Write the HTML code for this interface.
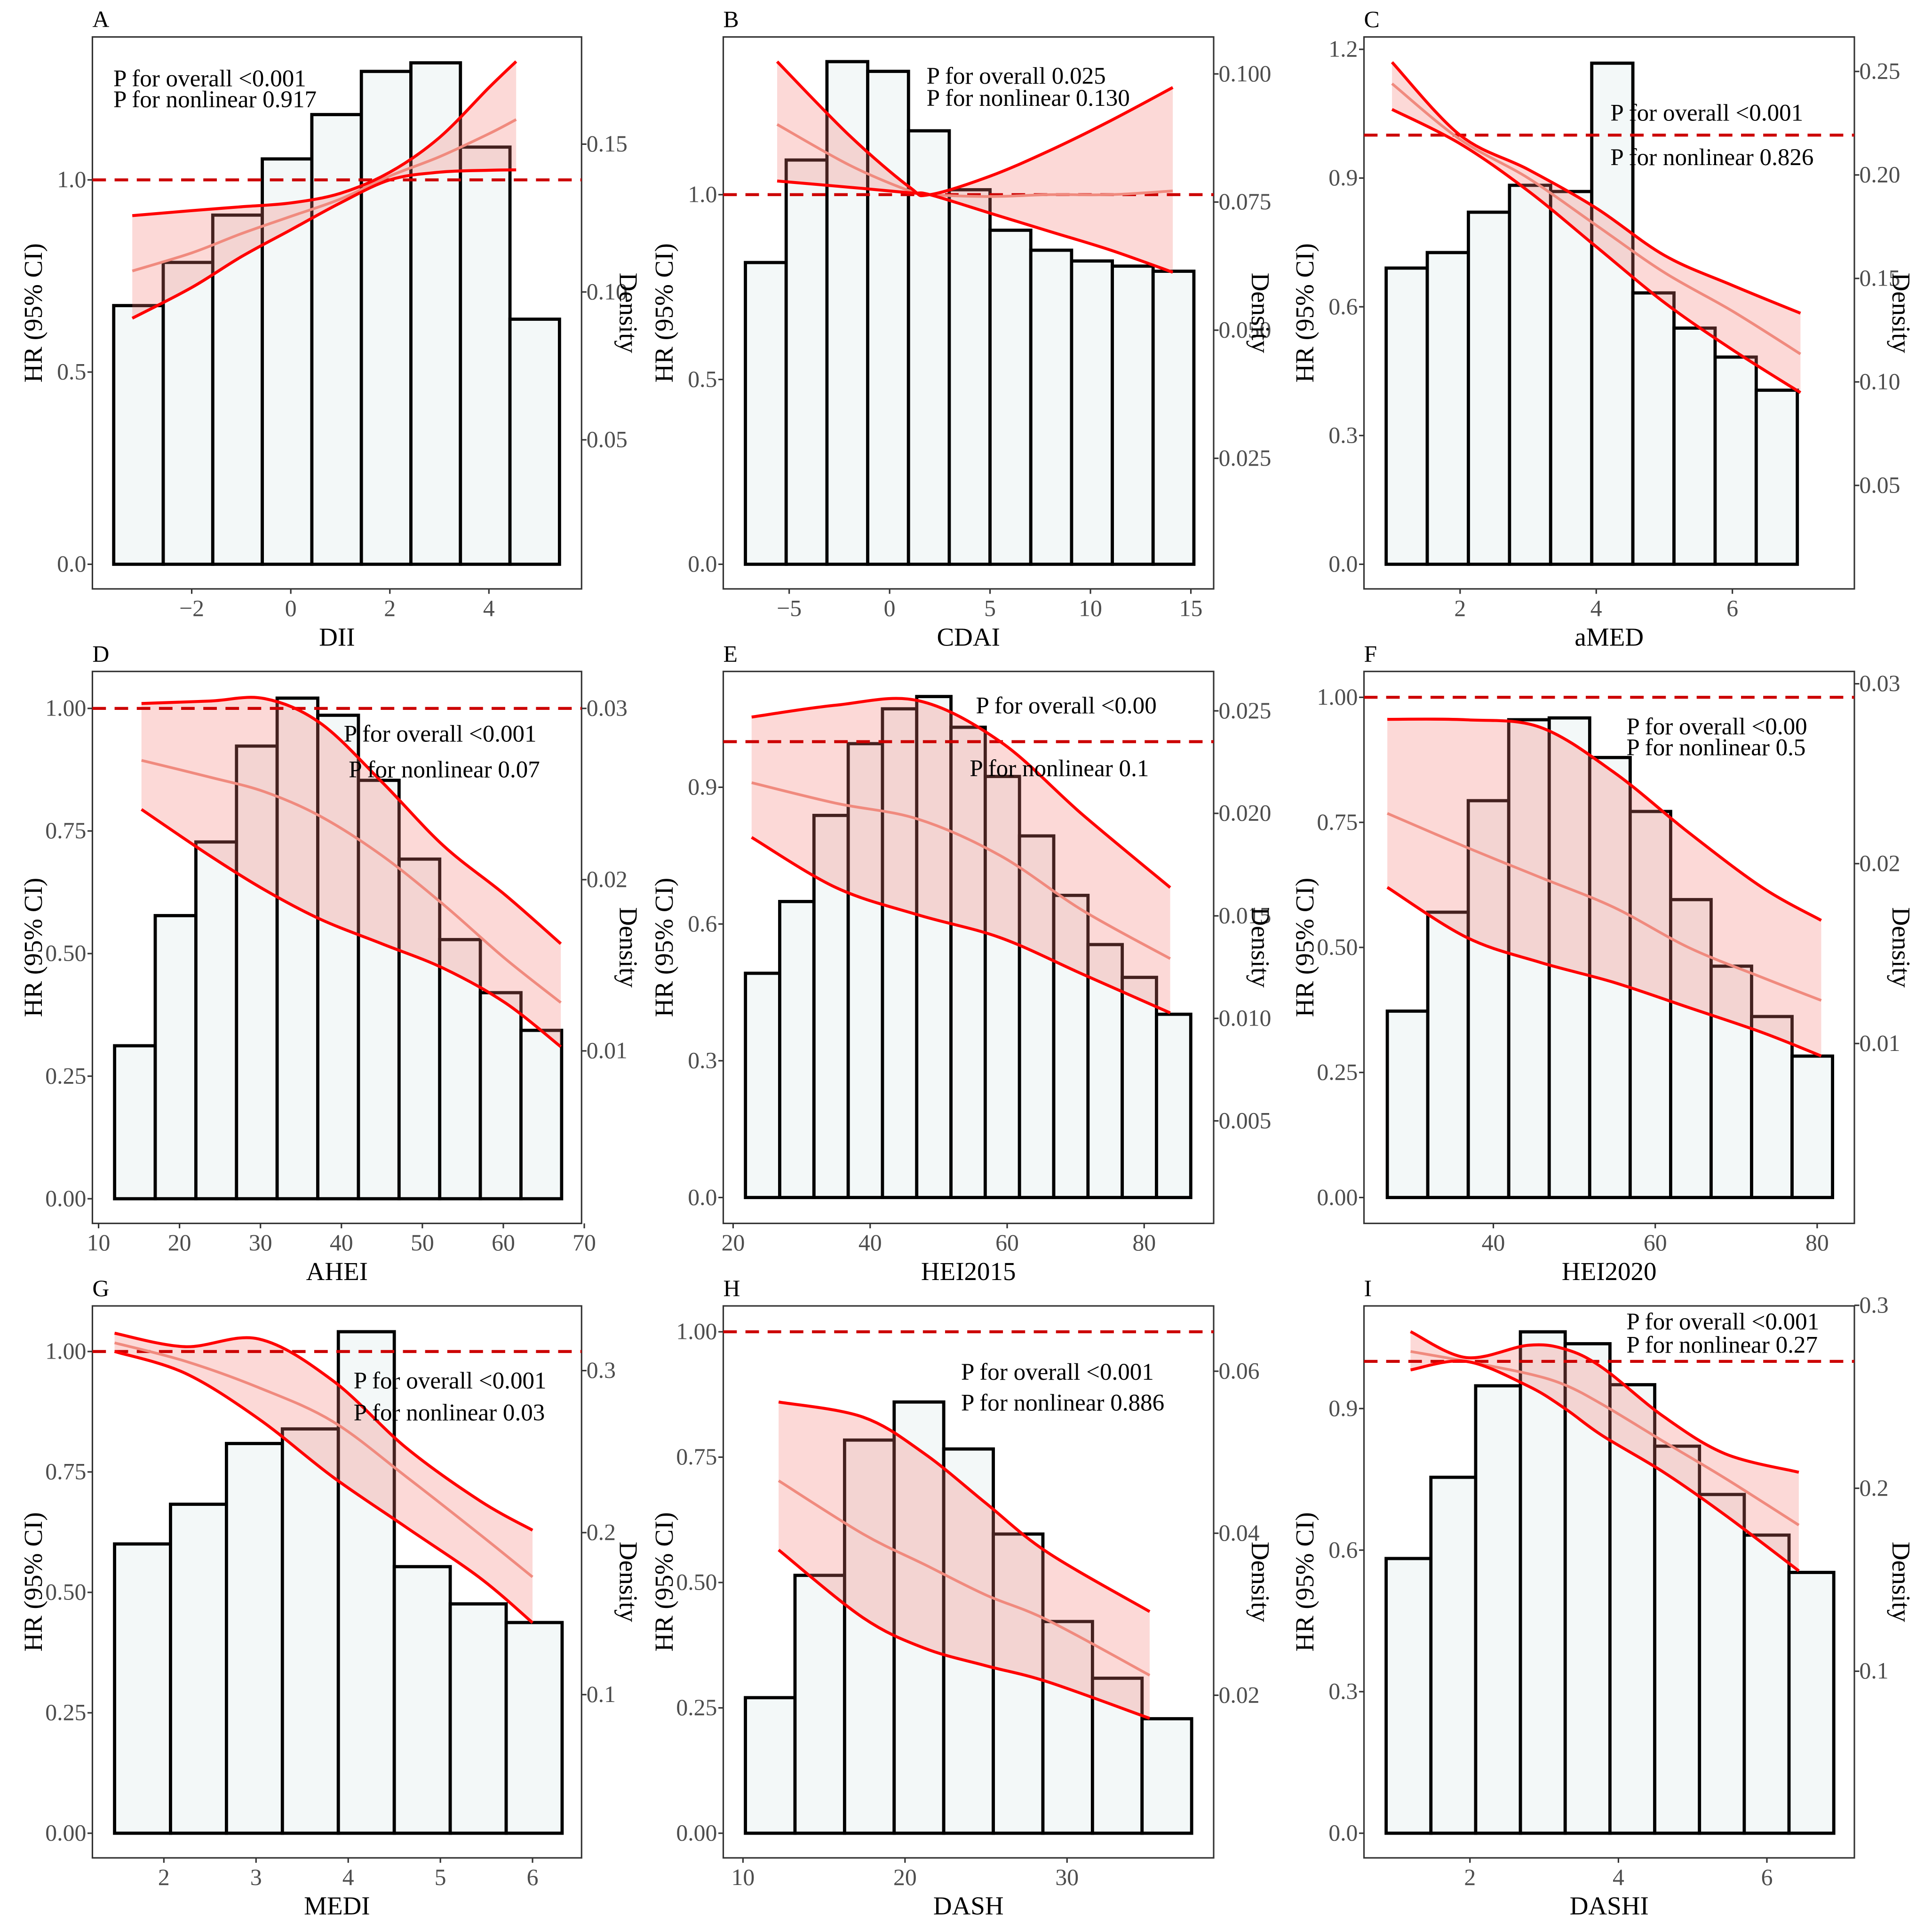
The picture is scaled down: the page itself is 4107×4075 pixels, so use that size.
<!DOCTYPE html>
<html><head><meta charset="utf-8"><style>
html,body{margin:0;padding:0;background:#fff;}
svg{display:block;}
text{font-family:"Liberation Serif",serif;}
</style></head><body>
<svg id="fig" width="4107" height="4075" viewBox="0 0 1568 1556" preserveAspectRatio="none" xmlns="http://www.w3.org/2000/svg"></svg>
<script>
// ---- data arrays per panel ----
const aBins=[0.0954,0.110,0.126,0.145,0.160,0.1746,0.1775,0.149,0.0908];
const aCx=[-3.2,-2,-1,0,1,2,3,4,4.55];
const aFit=[0.763,0.81,0.86,0.905,0.95,1.01,1.06,1.12,1.157];
const aUp=[0.907,0.92,0.93,0.94,0.965,1.02,1.11,1.24,1.308];
const aLo=[0.64,0.72,0.80,0.87,0.94,1.00,1.02,1.025,1.026];

const bBins=[0.0632,0.0832,0.1024,0.1005,0.0889,0.0774,0.0695,0.0656,0.0635,0.0625,0.0615];
const bCx=[-5.6,-2,1,2,5,8,11,14.1];
const bFit=[1.19,1.08,1.01,1.0,0.995,1.0,1.0,1.01];
const bUp=[1.36,1.16,1.02,1.0,1.05,1.12,1.2,1.29];
const bLo=[1.037,1.02,1.005,1.0,0.95,0.9,0.85,0.79];

const cBins=[0.155,0.1625,0.182,0.195,0.192,0.254,0.143,0.126,0.112,0.096];
const cCx=[1.0,2.0,3.0,4.0,5.0,6.0,7.0];
const cFit=[1.12,0.99,0.9,0.79,0.68,0.59,0.49];
const cUp=[1.17,1.0,0.92,0.83,0.72,0.65,0.585];
const cLo=[1.06,0.98,0.87,0.74,0.61,0.50,0.40];

const dBins=[0.0103,0.0179,0.0222,0.0278,0.0306,0.0296,0.0258,0.0212,0.0165,0.0134,0.0112];
const dCx=[15.3,23.7,30.5,37.4,45,52.6,60.2,67.1];
const dFit=[0.894,0.86,0.83,0.78,0.70,0.60,0.49,0.40];
const dUp=[1.01,1.015,1.02,0.97,0.85,0.72,0.62,0.52];
const dLo=[0.794,0.70,0.63,0.57,0.52,0.47,0.40,0.31];

const eBins=[0.0122,0.0157,0.0199,0.0234,0.0251,0.0257,0.0242,0.0218,0.0189,0.016,0.0136,0.012,0.0102];
const eCx=[22.7,35,47,59,71,83.8];
const eFit=[0.91,0.865,0.83,0.75,0.63,0.524];
const eUp=[1.054,1.08,1.09,1.0,0.84,0.68];
const eLo=[0.79,0.68,0.62,0.57,0.49,0.405];

const fBins=[0.0118,0.0173,0.0235,0.028,0.0281,0.0259,0.0229,0.018,0.0143,0.0115,0.0093];
const fCx=[26.9,36.7,45.8,54.9,64.1,73.2,80.5];
const fFit=[0.768,0.70,0.64,0.58,0.50,0.44,0.394];
const fUp=[0.956,0.955,0.94,0.85,0.73,0.62,0.554];
const fLo=[0.62,0.52,0.47,0.43,0.38,0.33,0.283];

const gBins=[0.193,0.2175,0.255,0.264,0.324,0.179,0.156,0.1445];
const gCx=[1.465,2.23,3.03,3.83,4.63,5.43,6.0];
const gFit=[1.018,0.98,0.925,0.855,0.74,0.62,0.532];
const gUp=[1.038,1.01,1.026,0.94,0.80,0.69,0.629];
const gLo=[1.0,0.955,0.86,0.74,0.635,0.53,0.437];

const hBins=[0.0197,0.0348,0.0515,0.0562,0.0504,0.0399,0.0291,0.0221,0.0171];
const hCx=[12.2,17.4,21.2,25,28.8,35.1];
const hFit=[0.703,0.597,0.536,0.475,0.425,0.315];
const hUp=[0.86,0.83,0.757,0.658,0.56,0.442];
const hLo=[0.565,0.43,0.369,0.334,0.302,0.229];

const iBins=[0.1616,0.206,0.256,0.2855,0.279,0.2566,0.223,0.1966,0.1744,0.154];
const iCx=[1.2,1.95,2.78,3.28,3.78,4.61,5.44,6.43];
const iFit=[1.021,1.0,0.974,0.95,0.909,0.83,0.752,0.653];
const iUp=[1.063,1.008,1.034,1.026,0.987,0.883,0.804,0.765];
const iLo=[0.982,1.0,0.948,0.90,0.843,0.765,0.674,0.556];

// ---- panel layout (scales) ----
const panels=[
 {id:'A',L:75,R:472,T:30,B:478,hr0:458,hrK:312,d0:477,dK:2400,xv:0,xp:236,xK:40.2,b0:-3.575,bw:1.0,bins:aBins,cx:aCx,fit:aFit,up:aUp,lo:aLo,
  hT:[0,0.5,1.0],hF:1,dT:[0.05,0.10,0.15],dF:2,xT:[-2,0,2,4],xl:'DII',p:[[92,70,'P for overall <0.001'],[92,87,'P for nonlinear 0.917']]},
 {id:'B',L:587,R:985,T:30,B:478,hr0:458,hrK:300,d0:476,dK:4160,xv:0,xp:722,xK:16.3,b0:-7.18,bw:2.03,bins:bBins,cx:bCx,fit:bFit,up:bUp,lo:bLo,
  hT:[0,0.5,1.0],hF:1,dT:[0.025,0.05,0.075,0.1],dF:3,xT:[-5,0,5,10,15],xl:'CDAI',p:[[752,68,'P for overall 0.025'],[752,86,'P for nonlinear 0.130']]},
 {id:'C',L:1107,R:1505,T:30,B:478,hr0:458,hrK:348.3,d0:478,dK:1680,xv:2,xp:1185,xK:55.25,b0:0.914,bw:0.604,bins:cBins,cx:cCx,fit:cFit,up:cUp,lo:cLo,
  hT:[0,0.3,0.6,0.9,1.2],hF:1,dT:[0.05,0.1,0.15,0.2,0.25],dF:2,xT:[2,4,6],xl:'aMED',p:[[1307,98,'P for overall <0.001'],[1307,134,'P for nonlinear 0.826']]},
 {id:'D',L:75,R:472,T:545,B:993,hr0:973,hrK:398,d0:992,dK:13900,xv:10,xp:80,xK:6.57,b0:11.98,bw:5.02,bins:dBins,cx:dCx,fit:dFit,up:dUp,lo:dLo,
  hT:[0,0.25,0.5,0.75,1.0],hF:2,dT:[0.01,0.02,0.03],dF:2,xT:[10,20,30,40,50,60,70],xl:'AHEI',p:[[279,602,'P for overall <0.001'],[283,631,'P for nonlinear 0.07']]},
 {id:'E',L:587,R:985,T:545,B:993,hr0:972,hrK:370,d0:993,dK:16640,xv:20,xp:595,xK:5.56,b0:21.8,bw:5.0,bins:eBins,cx:eCx,fit:eFit,up:eUp,lo:eLo,
  hT:[0,0.3,0.6,0.9],hF:1,dT:[0.005,0.01,0.015,0.02,0.025],dF:3,xT:[20,40,60,80],xl:'HEI2015',p:[[792,579,'P for overall <0.00'],[787,630,'P for nonlinear 0.1']]},
 {id:'F',L:1107,R:1505,T:545,B:993,hr0:972,hrK:406,d0:993,dK:14600,xv:40,xp:1212,xK:6.57,b0:26.9,bw:5.0,bins:fBins,cx:fCx,fit:fFit,up:fUp,lo:fLo,
  hT:[0,0.25,0.5,0.75,1.0],hF:2,dT:[0.01,0.02,0.03],dF:2,xT:[40,60,80],xl:'HEI2020',p:[[1320,596,'P for overall <0.00'],[1320,613,'P for nonlinear 0.5']]},
 {id:'G',L:75,R:472,T:1060,B:1508,hr0:1488,hrK:391,d0:1507,dK:1315,xv:2,xp:133,xK:74.8,b0:1.465,bw:0.607,bins:gBins,cx:gCx,fit:gFit,up:gUp,lo:gLo,
  hT:[0,0.25,0.5,0.75,1.0],hF:2,dT:[0.1,0.2,0.3],dF:1,xT:[2,3,4,5,6],xl:'MEDI',p:[[287,1127,'P for overall <0.001'],[287,1153,'P for nonlinear 0.03']]},
 {id:'H',L:587,R:985,T:1060,B:1508,hr0:1488,hrK:407,d0:1507.5,dK:6575,xv:10,xp:603,xK:13.15,b0:10.15,bw:3.06,bins:hBins,cx:hCx,fit:hFit,up:hUp,lo:hLo,
  hT:[0,0.25,0.5,0.75,1.0],hF:2,dT:[0.02,0.04,0.06],dF:2,xT:[10,20,30],xl:'DASH',p:[[780,1120,'P for overall <0.001'],[780,1145,'P for nonlinear 0.886']]},
 {id:'I',L:1107,R:1505,T:1060,B:1508,hr0:1488,hrK:383,d0:1505,dK:1485,xv:2,xp:1193,xK:60.25,b0:0.871,bw:0.603,bins:iBins,cx:iCx,fit:iFit,up:iUp,lo:iLo,
  hT:[0,0.3,0.6,0.9],hF:1,dT:[0.1,0.2,0.3],dF:1,xT:[2,4,6],xl:'DASHI',p:[[1320,1079,'P for overall <0.001'],[1320,1098,'P for nonlinear 0.27']]}
];

const NS='http://www.w3.org/2000/svg';
const svg=document.getElementById('fig');
function mk(tag,attrs,parent){const e=document.createElementNS(NS,tag);for(const k in attrs)e.setAttribute(k,attrs[k]);(parent||svg).appendChild(e);return e;}
function smooth(pts){
  let d='M'+pts[0][0]+','+pts[0][1];
  for(let i=0;i<pts.length-1;i++){
    const p0=pts[i-1]||pts[i],p1=pts[i],p2=pts[i+1],p3=pts[i+2]||p2;
    const c1=[p1[0]+(p2[0]-p0[0])/6,p1[1]+(p2[1]-p0[1])/6];
    const c2=[p2[0]-(p3[0]-p1[0])/6,p2[1]-(p3[1]-p1[1])/6];
    d+=' C'+c1[0]+','+c1[1]+' '+c2[0]+','+c2[1]+' '+p2[0]+','+p2[1];
  }
  return d;
}
function minus(s){return s.replace('-','\u2212');}

panels.forEach(P=>{
  const g=mk('g',{});
  
  
  const X=v=>P.xp+(v-P.xv)*P.xK;
  const Y=v=>P.hr0-v*P.hrK;
  const YD=v=>P.d0-v*P.dK;
  const lt=mk('text',{x:P.L,y:P.T-8,'font-size':19,fill:'#000'},g);lt.textContent=P.id;
  
  
  const box=mk('rect',{x:P.L,y:P.T,width:P.R-P.L,height:P.B-P.T,fill:'#fff',stroke:'#333','stroke-width':1.2},g);
  
  
  P.bins.forEach((d,i)=>{
    const x0=X(P.b0+i*P.bw),x1=X(P.b0+(i+1)*P.bw);
    const r=mk('rect',{x:x0,y:YD(d),width:x1-x0,height:P.hr0-YD(d),fill:'#f3f8f8',stroke:'#000','stroke-width':2.6},g);
    
    
  });
  const upP=P.cx.map((v,i)=>[X(v),Y(P.up[i])]);
  const loP=P.cx.map((v,i)=>[X(v),Y(P.lo[i])]).reverse();
  const rib=mk('path',{d:smooth(upP)+' L'+loP[0][0]+','+loP[0][1]+smooth(loP).replace(/^M[^C]*/,' ')+'Z',fill:'rgba(245,120,110,0.28)',stroke:'none'},g);
  
  
  const ref=mk('line',{x1:P.L,x2:P.R,y1:Y(1),y2:Y(1),stroke:'#cc0000','stroke-width':2.4,'stroke-dasharray':'11,7'},g);
  
  
  const fitL=mk('path',{d:smooth(P.cx.map((v,i)=>[X(v),Y(P.fit[i])])),fill:'none',stroke:'#f08a7e','stroke-width':2.2},g);
  
  
  const upL=mk('path',{d:smooth(upP),fill:'none',stroke:'#ff0000','stroke-width':2.4},g);
  
  
  const loL=mk('path',{d:smooth(P.cx.map((v,i)=>[X(v),Y(P.lo[i])])),fill:'none',stroke:'#ff0000','stroke-width':2.4},g);
  
  
  P.hT.forEach(v=>{
    mk('line',{x1:P.L-4,x2:P.L,y1:Y(v),y2:Y(v),stroke:'#333','stroke-width':1.2},g);
    const t=mk('text',{x:P.L-5,y:Y(v)+6,'font-size':19,fill:'#4d4d4d','text-anchor':'end'},g);
    t.textContent=v.toFixed(P.hF);
    
    
  });
  P.dT.forEach(v=>{
    mk('line',{x1:P.R,x2:P.R+4,y1:YD(v),y2:YD(v),stroke:'#333','stroke-width':1.2},g);
    const t=mk('text',{x:P.R+4,y:YD(v)+6,'font-size':19,fill:'#4d4d4d'},g);
    t.textContent=v.toFixed(P.dF);
    
    
  });
  P.xT.forEach(v=>{
    mk('line',{x1:X(v),x2:X(v),y1:P.B,y2:P.B+4,stroke:'#333','stroke-width':1.2},g);
    const t=mk('text',{x:X(v),y:P.B+22,'font-size':19,fill:'#4d4d4d','text-anchor':'middle'},g);
    t.textContent=minus(String(v));
    
    
  });
  const cy=(P.T+P.B)/2;
  const yt=mk('text',{x:0,y:0,'font-size':21,fill:'#000','text-anchor':'middle',transform:`translate(${P.L-41},${cy}) rotate(-90)`},g);
  yt.textContent='HR (95% CI)';
  
  
  const dtt=mk('text',{x:0,y:0,'font-size':21,fill:'#000','text-anchor':'middle',transform:`translate(${P.R+31},${cy}) rotate(90)`},g);
  dtt.textContent='Density';
  
  
  const xt=mk('text',{x:(P.L+P.R)/2,y:P.B+46,'font-size':21,fill:'#000','text-anchor':'middle'},g);
  xt.textContent=P.xl;
  
  
  P.p.forEach(q=>{
    const t=mk('text',{x:q[0],y:q[1],'font-size':19.5,fill:'#000'},g);
    t.textContent=q[2];
    
    
  });
});
</script>
</body></html>
